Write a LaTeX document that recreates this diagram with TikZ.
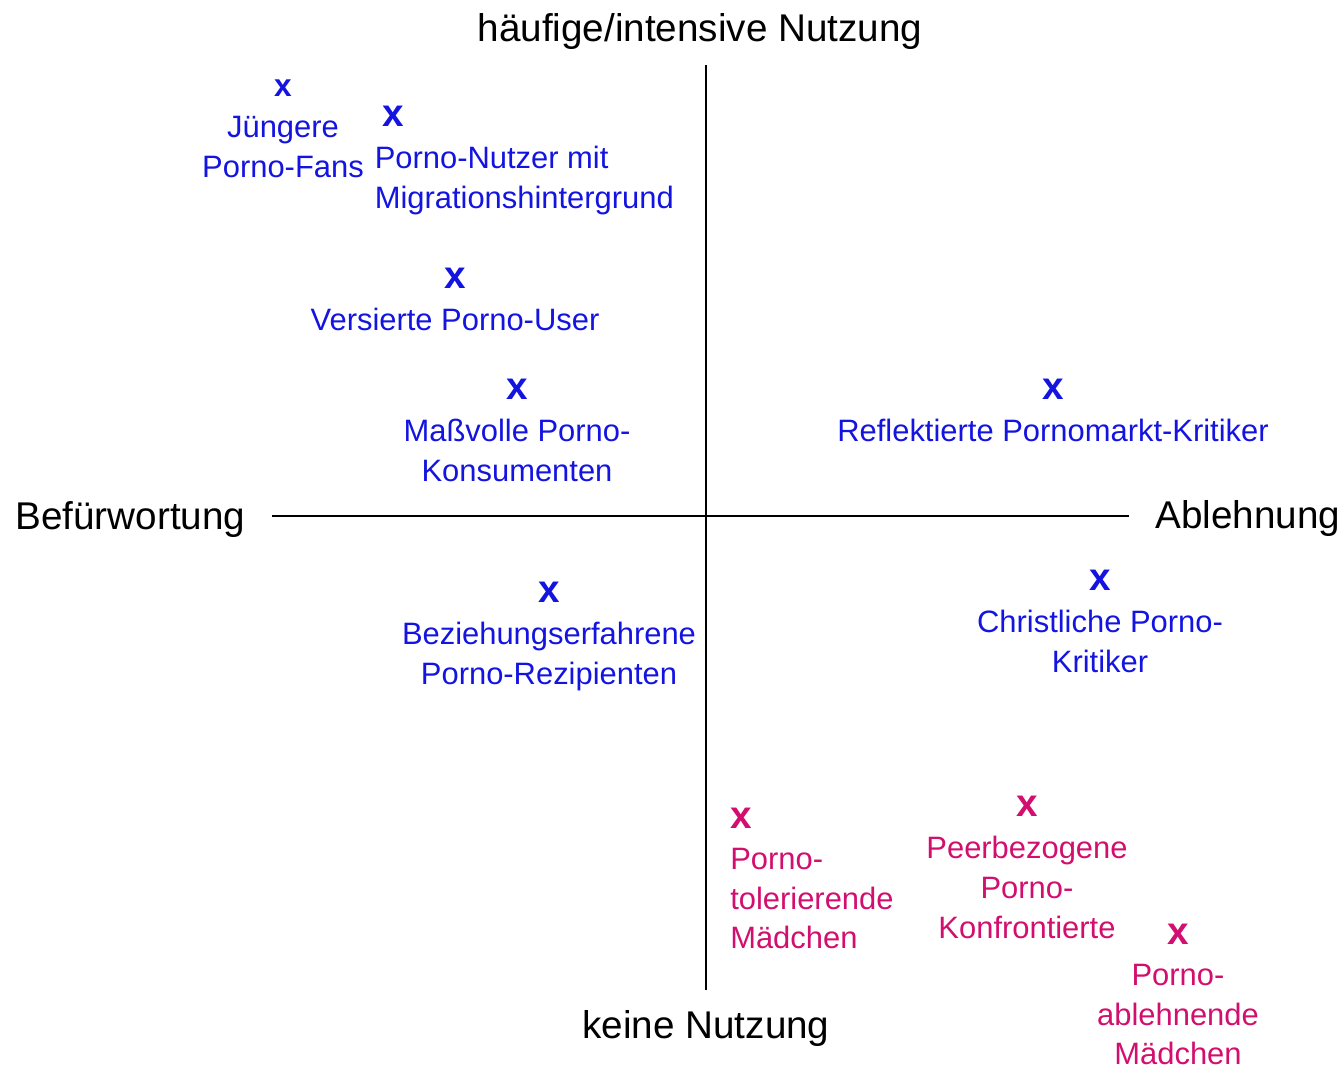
\documentclass[tikz,border=0pt]{standalone}
\usepackage{fontspec}
\setmainfont{Liberation Sans}
\usetikzlibrary{positioning}
\definecolor{typblau}{RGB}{20,20,225}
\definecolor{typrosa}{RGB}{210,15,110}

\begin{document}
\begin{tikzpicture}[
  x=0.02cm, y=-0.02cm,
  node distance=0.38cm,
  achse/.style={font=\fontsize{22}{26}\selectfont, inner sep=0pt},
  marke/.style={font=\fontsize{22}{26}\selectfont\bfseries, inner sep=0pt},
  kleinmarke/.style={font=\fontsize{18}{22}\selectfont\bfseries, inner sep=0pt},
  typ/.style={font=\fontsize{17.6}{22.7}\selectfont, inner sep=0pt, align=center},
  achslinie/.style={line width=1.1pt}
]
\useasboundingbox (0,0) rectangle (1344,1071);

% Axes
\coordinate (mitte) at (706,516);
\node[achse, anchor=base] (oben) at (700,42) {häufige/intensive Nutzung};
\node[achse, anchor=base] (unten) at (706,1038) {keine Nutzung};
\node[achse, anchor=base west] (pro) at (15,529) {Befürwortung};
\node[achse, anchor=base west] (contra) at (1155,528) {Ablehnung};
\draw[achslinie, shorten <=0.53cm, shorten >=0.53cm] (pro.east |- mitte) -- (contra.west |- mitte);
\draw[achslinie, shorten <=0.3cm, shorten >=0.4cm] (mitte |- oben.south) -- (mitte |- unten.north);

% Types (blue)
\node[kleinmarke, typblau] (jung) at (283,88) {x};
\node[typ, typblau, below=of jung] {Jüngere\\Porno-Fans};
\node[marke, typblau] (migr) at (393,116) {x};
\node[typ, typblau, below=of migr.south west, anchor=north west, xshift=-0.15cm, align=left] {Porno-Nutzer mit\\Migrationshintergrund};
\node[marke, typblau] (vers) at (455,278) {x};
\node[typ, typblau, below=of vers] {Versierte Porno-User};
\node[marke, typblau] (mass) at (517,389) {x};
\node[typ, typblau, below=of mass] {Maßvolle Porno-\\Konsumenten};
\node[marke, typblau] (refl) at (1053,389) {x};
\node[typ, typblau, below=of refl] {Reflektierte Pornomarkt-Kritiker};
\node[marke, typblau] (bez) at (549,592) {x};
\node[typ, typblau, below=of bez] {Beziehungserfahrene\\Porno-Rezipienten};
\node[marke, typblau] (christ) at (1100,580) {x};
\node[typ, typblau, below=of christ] {Christliche Porno-\\Kritiker};

% Types (girls)
\node[marke, typrosa] (toler) at (741,818) {x};
\node[typ, typrosa, below=of toler.south west, anchor=north west, align=left] {Porno-\\tolerierende\\Mädchen};
\node[marke, typrosa] (peer) at (1027,806) {x};
\node[typ, typrosa, below=of peer] {Peerbezogene\\Porno-\\Konfrontierte};
\node[marke, typrosa] (ablehn) at (1178,934) {x};
\node[typ, typrosa, below=of ablehn] {Porno-\\ablehnende\\Mädchen};

\end{tikzpicture}
\end{document}
